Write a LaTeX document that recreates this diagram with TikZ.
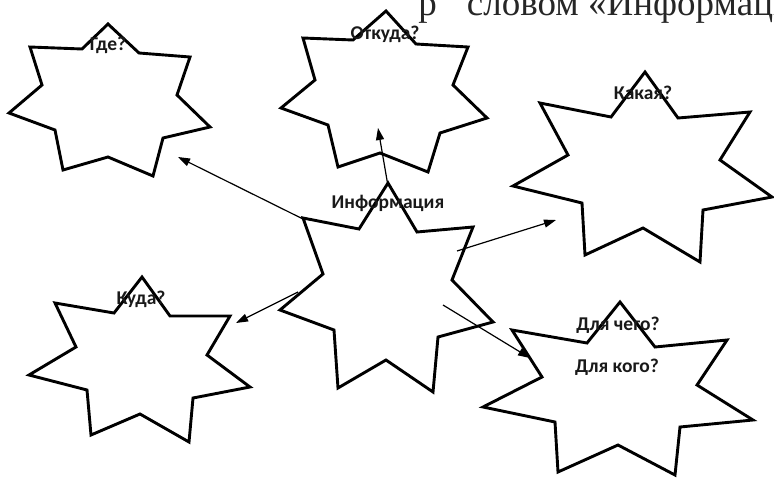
\documentclass[tikz,border=0pt]{standalone}
\usepackage{fontspec}
\newfontfamily\lblfont{Carlito}
\newfontfamily\serfont{Liberation Serif}
\usetikzlibrary{arrows.meta}
\tikzset{
  starline/.style={line width=2.9pt, line join=miter, fill=white},
  arr/.style={line width=1.2pt, -{Triangle[length=12pt,width=8pt]}},
  lbl/.style={inner sep=0pt, text=black!90, font=\lblfont\bfseries\fontsize{19.5}{19.5}\selectfont},
  toptxt/.style={inner sep=0pt, text=black!85, font=\serfont\fontsize{37}{37}\selectfont},
}
\begin{document}
\begin{tikzpicture}[x=1pt,y=-1pt]
\useasboundingbox (0,0) rectangle (774,479);
\clip (0,0) rectangle (774,479);
% top text (cut off by the edge)
\node[toptxt, anchor=base east] (toptexta) at (579,15) {р\hspace{30pt}словом};
\node[toptxt, anchor=base west] (toptextb) at (588,15) {«Информация»};
% stars
\draw[starline] (108,24) -- (139,53) -- (190,57) -- (177,95) -- (210,127) -- (163,138) -- (153,176) -- (108,157) -- (63,170) -- (55,130) -- (9,113) -- (42,85) -- (30,47) -- (82,49) -- cycle;
\draw[starline] (386,11) -- (416,44) -- (468,47) -- (453,85) -- (487,118) -- (440,133) -- (428,172) -- (380,153) -- (338,167) -- (328,125) -- (281,108) -- (315,80) -- (303,38) -- (353,40) -- cycle;
\draw[starline] (645,72) -- (678,118) -- (750,112) -- (720,160) -- (772,197) -- (703,210) -- (700,262) -- (643,228) -- (585,255) -- (582,203) -- (513,186) -- (568,155) -- (540,103) -- (611,117) -- cycle;
\draw[starline] (142,277) -- (170,316) -- (230,316) -- (207,355) -- (250,387) -- (193,398) -- (189,442) -- (140,414) -- (91,435) -- (87,390) -- (29,375) -- (76,347) -- (55,303) -- (114,313) -- cycle;
\draw[starline] (620,302) -- (655,347) -- (727,340) -- (697,385) -- (753,420) -- (680,427) -- (675,475) -- (618,445) -- (558,472) -- (555,422) -- (483,407) -- (542,377) -- (512,330) -- (587,343) -- cycle;
\draw[starline] (388,183) -- (417,232) -- (473,227) -- (452,280) -- (493,322) -- (438,337) -- (433,392) -- (386,360) -- (338,388) -- (334,330) -- (280,310) -- (323,274) -- (303,218) -- (359,229) -- cycle;
% arrow end points
\coordinate (s1) at (305,220); \coordinate (e1) at (178,157);
\coordinate (s2) at (388,186); \coordinate (e2) at (378,128);
\coordinate (s3) at (457,251); \coordinate (e3) at (556,220);
\coordinate (s4) at (298,292); \coordinate (e4) at (236,323);
\coordinate (s5) at (443,305); \coordinate (e5) at (530,358);
\draw[arr] (s1) -- (e1);
\draw[arr] (s2) -- (e2);
\draw[arr] (s3) -- (e3);
\draw[arr] (s4) -- (e4);
\draw[arr] (s5) -- (e5);
% labels
\node[lbl] (tgde) at (108,45) {Где?};
\node[lbl] (totk) at (385,34) {Откуда?};
\node[lbl] (tkak) at (643,93) {Какая?};
\node[lbl] (tkud) at (141,299) {Куда?};
\node[lbl] (tinf) at (388,203) {Информация};
\node[lbl] (tdch) at (618,325) {Для чего?};
\node[lbl] (tdko) at (617,367) {Для кого?};
\end{tikzpicture}
\end{document}
